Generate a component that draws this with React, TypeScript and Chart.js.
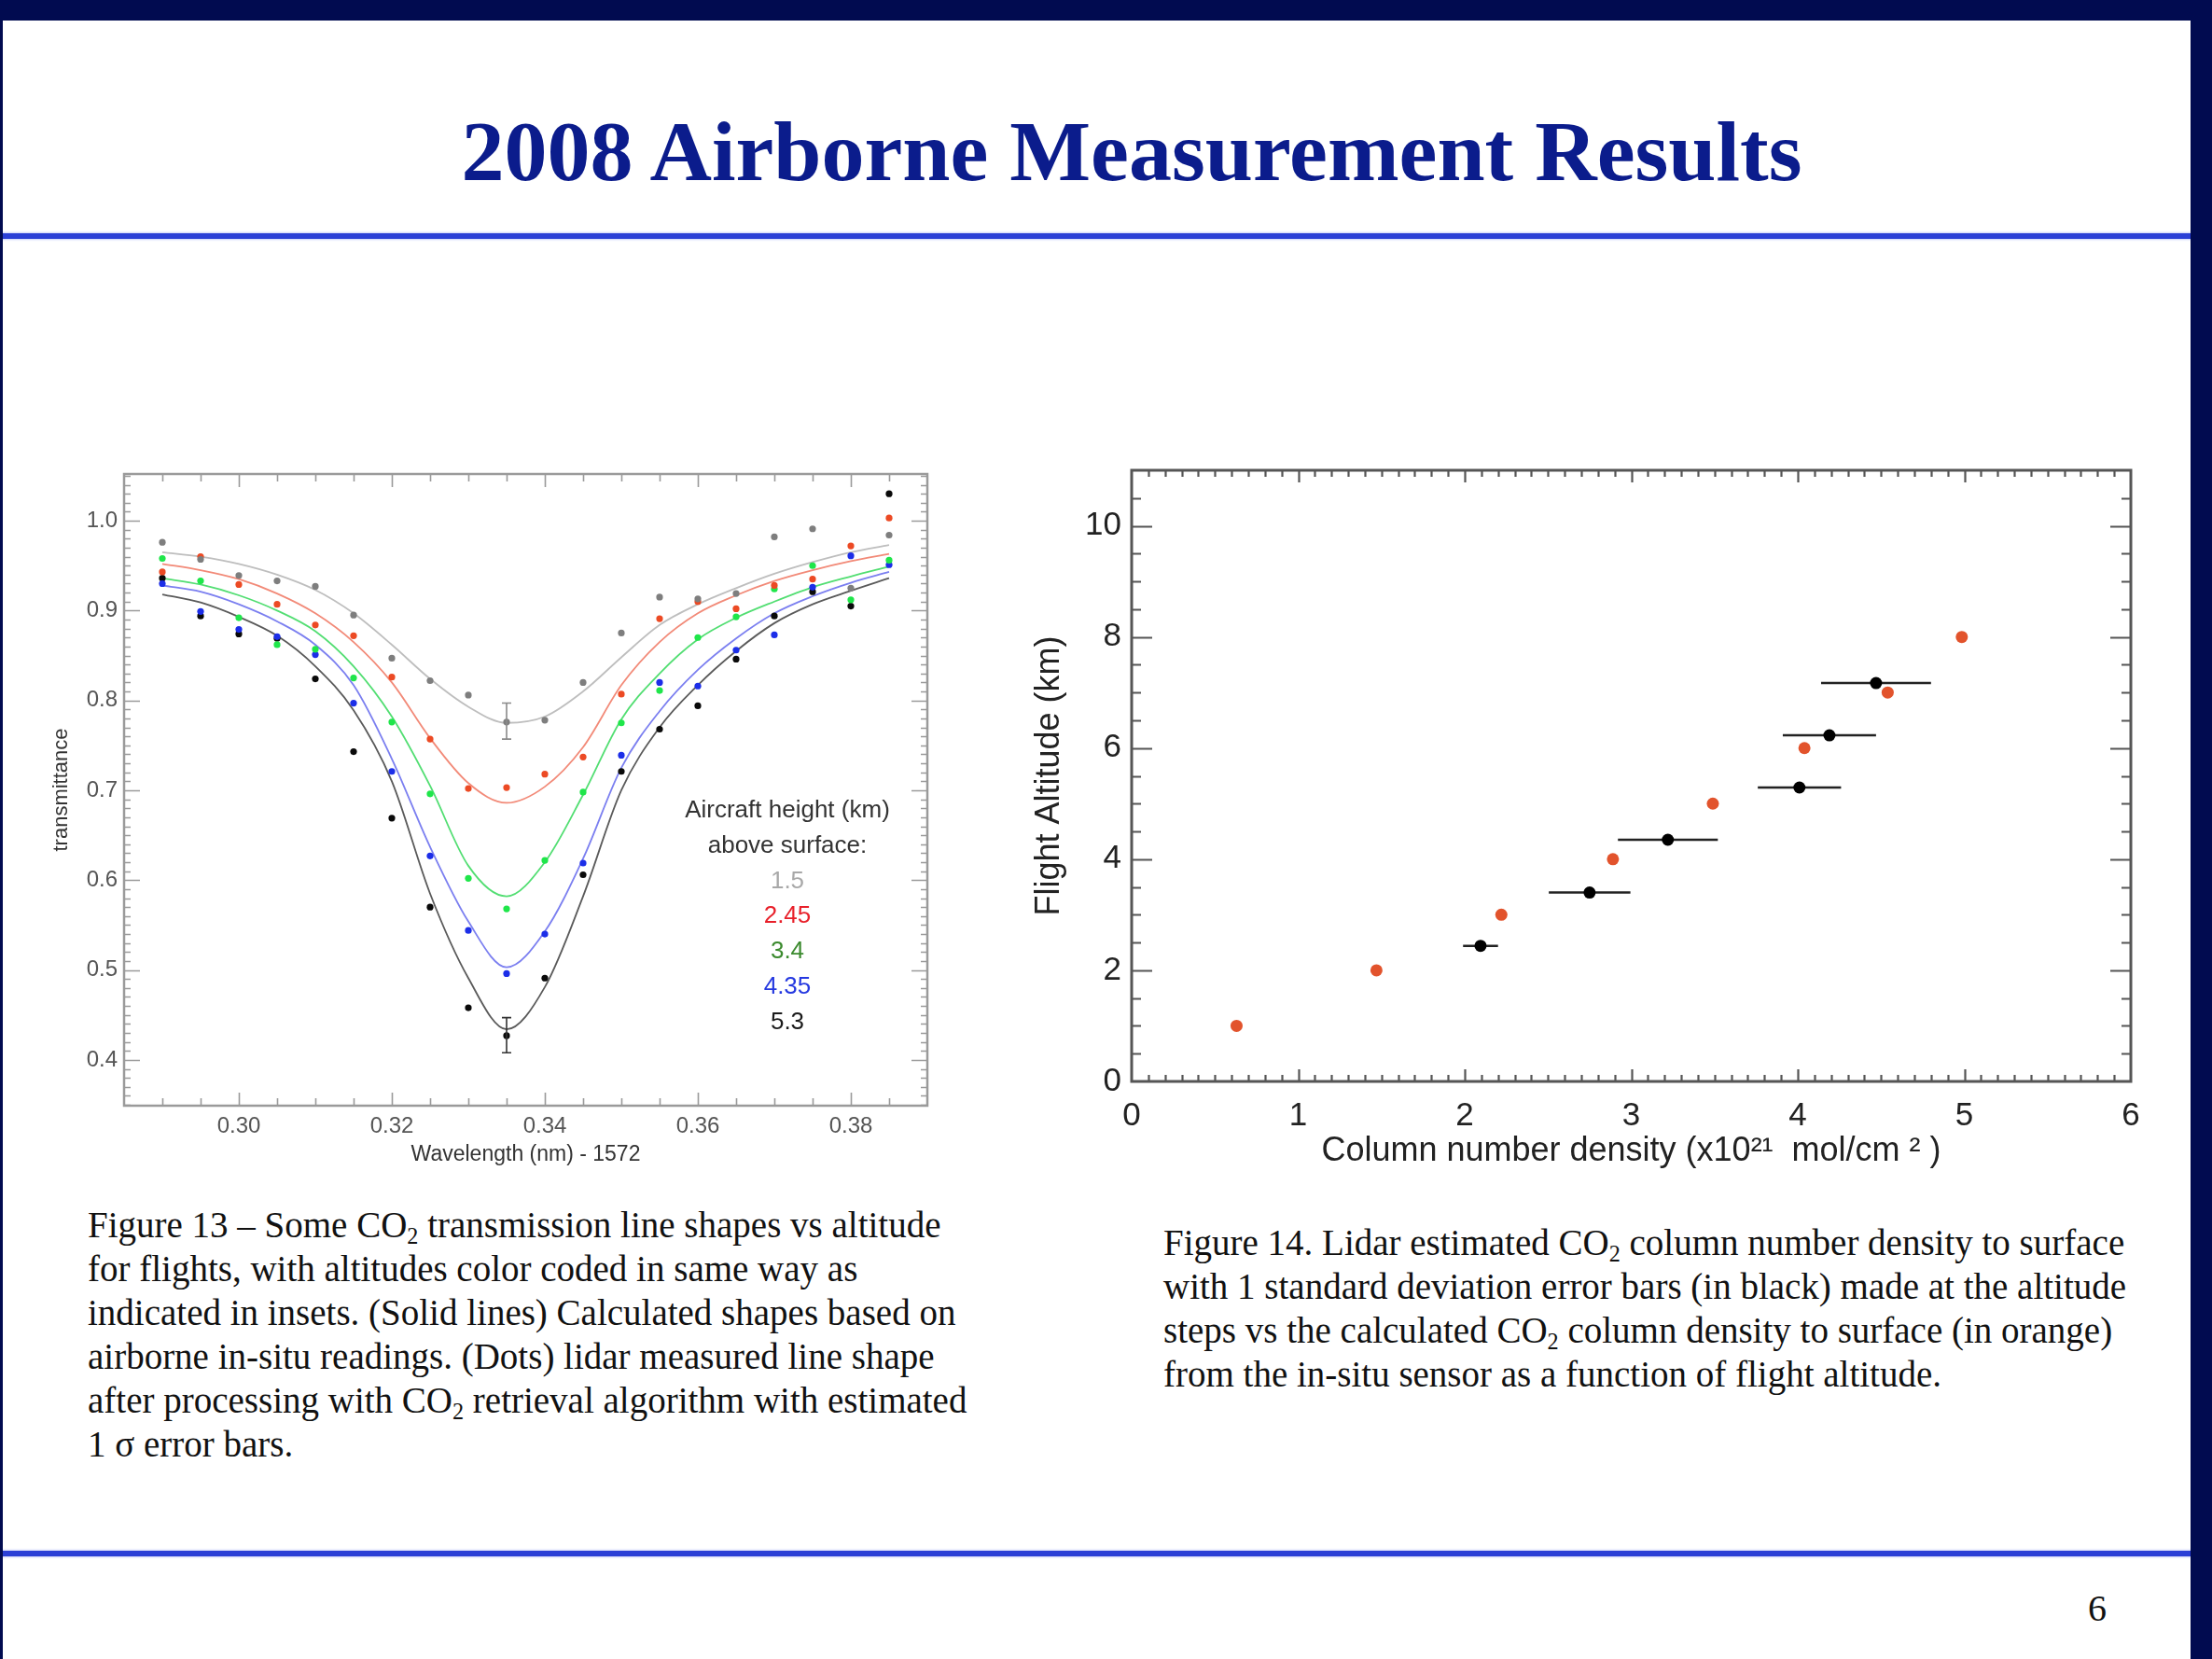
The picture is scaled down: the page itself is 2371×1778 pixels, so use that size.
import { useEffect, useRef } from "react";
import { Chart, registerables } from "chart.js";

Chart.register(...registerables);

const SANS = '"Liberation Sans", Arial, Helvetica, sans-serif';
const SERIF = '"Liberation Serif", "Times New Roman", Times, serif';
const NAVY = "#010b50";
const TITLE_BLUE = "#0b1c8c";

// ---------------- Figure 13 data ----------------
const fig13Wavelength = [0.29, 0.295, 0.3, 0.305, 0.31, 0.315, 0.32, 0.325, 0.33, 0.335, 0.34, 0.345, 0.35, 0.355, 0.36, 0.365, 0.37, 0.375, 0.38, 0.385];
const fig13Altitudes = ["1.5", "2.45", "3.4", "4.35", "5.3"];

const lidar15 = [0.976, 0.957, 0.939, 0.933, 0.927, 0.895, 0.847, 0.822, 0.806, 0.776, 0.778, 0.82, 0.875, 0.915, 0.913, 0.919, 0.982, 0.991, 0.925, 0.984];
const lidar245 = [0.943, 0.96, 0.929, 0.907, 0.884, 0.872, 0.826, 0.757, 0.702, 0.703, 0.718, 0.737, 0.807, 0.891, 0.91, 0.902, 0.928, 0.935, 0.972, 1.003];
const lidar34 = [0.958, 0.933, 0.892, 0.862, 0.857, 0.825, 0.776, 0.696, 0.602, 0.568, 0.622, 0.698, 0.775, 0.811, 0.87, 0.893, 0.924, 0.95, 0.912, 0.956];
const lidar435 = [0.93, 0.899, 0.879, 0.871, 0.851, 0.797, 0.721, 0.627, 0.544, 0.496, 0.54, 0.619, 0.739, 0.82, 0.816, 0.856, 0.873, 0.926, 0.961, 0.951];
const lidar53 = [0.936, 0.894, 0.874, 0.869, 0.824, 0.743, 0.669, 0.57, 0.458, 0.427, 0.491, 0.606, 0.721, 0.768, 0.794, 0.846, 0.894, 0.921, 0.905, 1.03];

const calc15 = [0.965, 0.96, 0.952, 0.94, 0.923, 0.897, 0.862, 0.824, 0.793, 0.775, 0.782, 0.81, 0.848, 0.884, 0.907, 0.925, 0.941, 0.954, 0.965, 0.973];
const calc245 = [0.952, 0.945, 0.935, 0.919, 0.897, 0.865, 0.82, 0.758, 0.708, 0.686, 0.704, 0.748, 0.817, 0.865, 0.897, 0.917, 0.933, 0.945, 0.955, 0.963];
const calc34 = [0.936, 0.929, 0.917, 0.9, 0.877, 0.838, 0.782, 0.705, 0.616, 0.582, 0.62, 0.695, 0.779, 0.83, 0.868, 0.892, 0.91, 0.926, 0.938, 0.949];
const calc435 = [0.928, 0.921, 0.907, 0.888, 0.862, 0.817, 0.735, 0.637, 0.554, 0.503, 0.543, 0.624, 0.725, 0.788, 0.834, 0.869, 0.897, 0.916, 0.931, 0.943];
const calc53 = [0.918, 0.909, 0.893, 0.872, 0.838, 0.789, 0.71, 0.585, 0.491, 0.434, 0.481, 0.582, 0.7, 0.77, 0.817, 0.855, 0.886, 0.907, 0.922, 0.936];

const fig13XTicks = [0.3, 0.32, 0.34, 0.36, 0.38];
const fig13XTickLabels = ["0.30", "0.32", "0.34", "0.36", "0.38"];
const fig13YTicks = [0.4, 0.5, 0.6, 0.7, 0.8, 0.9, 1.0];
const fig13YTickLabels = ["0.4", "0.5", "0.6", "0.7", "0.8", "0.9", "1.0"];

const fig13ErrX = [0.335, 0.335];
const fig13ErrLo = [0.757, 0.408];
const fig13ErrHi = [0.797, 0.447];

// ---------------- Figure 14 data ----------------
const insituDensity = [0.63, 1.47, 2.22, 2.89, 3.49, 4.04, 4.54, 4.985];
const insituAltitude = [1, 2, 3, 4, 5, 6, 7, 8];
const lidarDensity = [2.095, 2.75, 3.22, 4.01, 4.19, 4.47];
const lidarAltitude = [2.44, 3.4, 4.35, 5.29, 6.23, 7.17];
const lidarDensityErr = [0.105, 0.245, 0.3, 0.25, 0.28, 0.33];

const fig14XTicks = [0, 1, 2, 3, 4, 5, 6];
const fig14XTickLabels = ["0", "1", "2", "3", "4", "5", "6"];
const fig14YTicks = [0, 2, 4, 6, 8, 10];
const fig14YTickLabels = ["0", "2", "4", "6", "8", "10"];

// ---------------- plugins ----------------
function makeFramePlugin(cfg: any) {
  return {
    id: "frameTicks",
    afterDatasetsDraw(chart: any) {
      const { ctx, chartArea: a, scales } = chart;
      const xs = scales.x;
      const ys = scales.y;
      const near = (v: number, arr: number[]) => arr.some((m) => Math.abs(m - v) < 1e-6);
      ctx.save();
      ctx.strokeStyle = cfg.color;
      ctx.lineWidth = cfg.tickWidth;
      ctx.beginPath();
      const eps = 1e-7;
      for (let i = Math.floor(xs.min / cfg.xStep); i < 100000; i++) {
        const v = +(i * cfg.xStep).toFixed(6);
        if (v >= xs.max - eps) break;
        if (v <= xs.min + eps) continue;
        const px = Math.round(xs.getPixelForValue(v)) + 0.5;
        const L = near(v, cfg.xMajor) ? cfg.xMajorLen : cfg.xMinorLen;
        ctx.moveTo(px, a.bottom);
        ctx.lineTo(px, a.bottom - L);
        ctx.moveTo(px, a.top);
        ctx.lineTo(px, a.top + L);
      }
      for (let i = Math.floor(ys.min / cfg.yStep); i < 100000; i++) {
        const v = +(i * cfg.yStep).toFixed(6);
        if (v >= ys.max - eps) break;
        if (v <= ys.min + eps) continue;
        const py = Math.round(ys.getPixelForValue(v)) + 0.5;
        const L = near(v, cfg.yMajor) ? cfg.yMajorLen : cfg.yMinorLen;
        ctx.moveTo(a.left, py);
        ctx.lineTo(a.left + L, py);
        ctx.moveTo(a.right, py);
        ctx.lineTo(a.right - L, py);
      }
      ctx.stroke();
      ctx.lineWidth = cfg.boxWidth;
      ctx.strokeRect(a.left, a.top, a.right - a.left, a.bottom - a.top);
      ctx.restore();
    },
  };
}

function makeErrorBarPlugin(getBars: () => any[], before: boolean) {
  const draw = (chart: any) => {
    const { ctx, scales } = chart;
    const xs = scales.x;
    const ys = scales.y;
    ctx.save();
    for (const b of getBars()) {
      const px0 = xs.getPixelForValue(b.x0);
      const px1 = xs.getPixelForValue(b.x1);
      const py0 = ys.getPixelForValue(b.y0);
      const py1 = ys.getPixelForValue(b.y1);
      ctx.strokeStyle = b.color;
      ctx.lineWidth = b.width;
      ctx.beginPath();
      ctx.moveTo(px0, py0);
      ctx.lineTo(px1, py1);
      if (b.cap > 0) {
        if (b.x0 === b.x1) {
          ctx.moveTo(px0 - b.cap, py0);
          ctx.lineTo(px0 + b.cap, py0);
          ctx.moveTo(px1 - b.cap, py1);
          ctx.lineTo(px1 + b.cap, py1);
        } else {
          ctx.moveTo(px0, py0 - b.cap);
          ctx.lineTo(px0, py0 + b.cap);
          ctx.moveTo(px1, py1 - b.cap);
          ctx.lineTo(px1, py1 + b.cap);
        }
      }
      ctx.stroke();
    }
    ctx.restore();
  };
  return before
    ? { id: "errorBars", beforeDatasetsDraw: draw }
    : { id: "errorBars", afterDatasetsDraw: draw };
}

// ---------------- Figure 13 chart ----------------
const fig13Series = [
  { label: fig13Altitudes[0], lidar: lidar15, calc: calc15, dot: "#7e7e7e", line: "#bebebe" },
  { label: fig13Altitudes[1], lidar: lidar245, calc: calc245, dot: "#ec4a24", line: "#f28a78" },
  { label: fig13Altitudes[2], lidar: lidar34, calc: calc34, dot: "#1fe64a", line: "#52de72" },
  { label: fig13Altitudes[3], lidar: lidar435, calc: calc435, dot: "#1c2ee8", line: "#7b7ff0" },
  { label: fig13Altitudes[4], lidar: lidar53, calc: calc53, dot: "#0a0a0a", line: "#5a5a5a" },
];
const fig13LegendColors = ["#a8a8a8", "#e8202a", "#3b8a2e", "#2438e0", "#1a1a1a"];
const fig13ErrColors = ["#8a8a8a", "#333333"];

function Fig13() {
  const ref = useRef<HTMLCanvasElement>(null);
  useEffect(() => {
    if (!ref.current) return;
    const datasets: any[] = [];
    fig13Series.forEach((s) => {
      datasets.push({
        label: s.label + " km lidar",
        data: fig13Wavelength.map((x, i) => ({ x, y: s.lidar[i] })),
        showLine: false,
        pointRadius: 3.6,
        pointBackgroundColor: s.dot,
        pointBorderWidth: 0,
        order: 0,
      });
    });
    fig13Series.forEach((s) => {
      datasets.push({
        label: s.label + " km calculated",
        data: fig13Wavelength.map((x, i) => ({ x, y: s.calc[i] })),
        showLine: true,
        pointRadius: 0,
        borderColor: s.line,
        borderWidth: 1.8,
        cubicInterpolationMode: "monotone",
        fill: false,
        order: 1,
      });
    });
    const chart = new Chart(ref.current, {
      type: "scatter",
      data: { datasets },
      options: {
        responsive: false,
        animation: false,
        layout: { padding: { left: 0, top: 38, right: 66, bottom: 0 } },
        plugins: { legend: { display: false }, tooltip: { enabled: false } },
        scales: {
          x: {
            type: "linear",
            min: 0.285,
            max: 0.39,
            afterBuildTicks: (s: any) => {
              s.ticks = fig13XTicks.map((v) => ({ value: v }));
            },
            afterFit: (s: any) => {
              s.height = 85;
            },
            ticks: {
              autoSkip: false,
              maxRotation: 0,
              padding: 8,
              color: "#555",
              font: { family: SANS, size: 24 },
              callback: (_v: any, i: number) => fig13XTickLabels[i],
            },
            grid: { display: false, drawTicks: false },
            border: { display: false },
            title: {
              display: true,
              text: "Wavelength (nm) - 1572",
              color: "#333",
              font: { family: SANS, size: 23 },
              padding: { top: 0, bottom: 19 },
            },
          },
          y: {
            type: "linear",
            min: 0.349,
            max: 1.052,
            afterBuildTicks: (s: any) => {
              s.ticks = fig13YTicks.map((v) => ({ value: v }));
            },
            afterFit: (s: any) => {
              s.width = 133;
            },
            ticks: {
              autoSkip: false,
              padding: 7,
              color: "#555",
              font: { family: SANS, size: 24 },
              callback: (_v: any, i: number) => fig13YTickLabels[i],
            },
            grid: { display: false, drawTicks: false },
            border: { display: false },
            title: {
              display: true,
              text: "transmittance",
              color: "#333",
              font: { family: SANS, size: 22 },
              padding: { top: 53, bottom: 0 },
            },
          },
        },
      } as any,
      plugins: [
        makeErrorBarPlugin(
          () =>
            fig13ErrX.map((x, i) => ({
              x0: x,
              x1: x,
              y0: fig13ErrLo[i],
              y1: fig13ErrHi[i],
              color: fig13ErrColors[i],
              width: 1.6,
              cap: 5,
            })),
          false
        ),
        makeFramePlugin({
          color: "#9a9a9a",
          boxWidth: 2.5,
          tickWidth: 1.6,
          xStep: 0.005,
          yStep: 0.01,
          xMajor: [0.28, 0.3, 0.32, 0.34, 0.36, 0.38],
          yMajor: fig13YTicks,
          xMinorLen: 8,
          xMajorLen: 14,
          yMinorLen: 7,
          yMajorLen: 17,
        }),
      ],
    } as any);
    return () => chart.destroy();
  }, []);
  return (
    <>
      <canvas
        ref={ref}
        width={1060}
        height={800}
        style={{ position: "absolute", left: 0, top: 470, width: 1060, height: 800 }}
      />
      <div
        style={{
          position: "absolute",
          left: 594,
          top: 849,
          width: 500,
          textAlign: "center",
          fontFamily: SANS,
          fontSize: 26,
          lineHeight: "37.8px",
          color: "#333",
          whiteSpace: "nowrap",
        }}
      >
        <div>Aircraft height (km)</div>
        <div>above surface:</div>
        {fig13Altitudes.map((t, i) => (
          <div key={t} style={{ color: fig13LegendColors[i] }}>
            {t}
          </div>
        ))}
      </div>
    </>
  );
}

// ---------------- Figure 14 chart ----------------
function Fig14() {
  const ref = useRef<HTMLCanvasElement>(null);
  useEffect(() => {
    if (!ref.current) return;
    const chart = new Chart(ref.current, {
      type: "scatter",
      data: {
        datasets: [
          {
            label: "Lidar estimated",
            data: lidarDensity.map((x, i) => ({ x, y: lidarAltitude[i] })),
            pointRadius: 6.5,
            pointBackgroundColor: "#000",
            pointBorderWidth: 0,
            order: 0,
          },
          {
            label: "In-situ calculated",
            data: insituDensity.map((x, i) => ({ x, y: insituAltitude[i] })),
            pointRadius: 6.5,
            pointBackgroundColor: "#e2532c",
            pointBorderWidth: 0,
            order: 1,
          },
        ],
      },
      options: {
        responsive: false,
        animation: false,
        layout: { padding: { left: 0, top: 34, right: 56, bottom: 0 } },
        plugins: { legend: { display: false }, tooltip: { enabled: false } },
        scales: {
          x: {
            type: "linear",
            min: 0,
            max: 6,
            afterBuildTicks: (s: any) => {
              s.ticks = fig14XTicks.map((v) => ({ value: v }));
            },
            afterFit: (s: any) => {
              s.height = 141;
            },
            ticks: {
              autoSkip: false,
              maxRotation: 0,
              padding: 16,
              color: "#222",
              font: { family: SANS, size: 35 },
              callback: (_v: any, i: number) => fig14XTickLabels[i],
            },
            grid: { display: false, drawTicks: false },
            border: { display: false },
            title: {
              display: true,
              text: "Column number density (x10\u00B2\u00B9  mol/cm \u00B2 )",
              color: "#222",
              font: { family: SANS, size: 36 },
              padding: { top: 0, bottom: 44 },
            },
          },
          y: {
            type: "linear",
            min: 0,
            max: 11,
            afterBuildTicks: (s: any) => {
              s.ticks = fig14YTicks.map((v) => ({ value: v }));
            },
            afterFit: (s: any) => {
              s.width = 153;
            },
            ticks: {
              autoSkip: false,
              padding: 11,
              color: "#222",
              font: { family: SANS, size: 35 },
              callback: (_v: any, i: number) => fig14YTickLabels[i],
            },
            grid: { display: false, drawTicks: false },
            border: { display: false },
            title: {
              display: true,
              text: "Flight Altitude (km)",
              color: "#222",
              font: { family: SANS, size: 36 },
              padding: { top: 43, bottom: 0 },
            },
          },
        },
      } as any,
      plugins: [
        makeErrorBarPlugin(
          () =>
            lidarDensity.map((x, i) => ({
              x0: x - lidarDensityErr[i],
              x1: x + lidarDensityErr[i],
              y0: lidarAltitude[i],
              y1: lidarAltitude[i],
              color: "#222",
              width: 2.6,
              cap: 0,
            })),
          true
        ),
        makeFramePlugin({
          color: "#555",
          boxWidth: 3,
          tickWidth: 2.2,
          xStep: 0.1,
          yStep: 0.5,
          xMajor: fig14XTicks,
          yMajor: fig14YTicks,
          xMinorLen: 7,
          xMajorLen: 13,
          yMinorLen: 10,
          yMajorLen: 22,
        }),
      ],
    } as any);
    return () => chart.destroy();
  }, []);
  return (
    <canvas
      ref={ref}
      width={1280}
      height={830}
      style={{ position: "absolute", left: 1060, top: 470, width: 1280, height: 830 }}
    />
  );
}

const subStyle: any = { fontSize: "0.62em", verticalAlign: "-0.3em", lineHeight: 0 };

export default function App() {
  return (
    <div
      style={{
        position: "absolute",
        left: 0,
        top: 0,
        width: 2371,
        height: 1778,
        background: "#fff",
        overflow: "hidden",
      }}
    >
      <div
        style={{
          position: "absolute",
          left: 213,
          top: 116,
          width: 2000,
          textAlign: "center",
          fontFamily: SERIF,
          fontWeight: "bold",
          fontSize: 92,
          lineHeight: "92px",
          color: TITLE_BLUE,
          whiteSpace: "nowrap",
        }}
      >
        2008 Airborne Measurement Results
      </div>

      <div
        style={{
          position: "absolute",
          left: 0,
          top: 250,
          width: 2371,
          height: 6,
          background: "#2b40d6",
          boxShadow: "0 0 3px #8d9bf0",
        }}
      />
      <div
        style={{
          position: "absolute",
          left: 0,
          top: 1662,
          width: 2371,
          height: 6,
          background: "#2b40d6",
          boxShadow: "0 0 3px #8d9bf0",
        }}
      />

      <Fig13 />
      <Fig14 />

      <div
        style={{
          position: "absolute",
          left: 94,
          top: 1289,
          fontFamily: SERIF,
          fontSize: 39,
          lineHeight: "47px",
          color: "#111",
          whiteSpace: "nowrap",
        }}
      >
        <div>
          Figure 13 – Some CO<sub style={subStyle}>2</sub> transmission line shapes vs altitude
        </div>
        <div>for flights, with altitudes color coded in same way as</div>
        <div>indicated in insets. (Solid lines) Calculated shapes based on</div>
        <div>airborne in-situ readings. (Dots) lidar measured line shape</div>
        <div>
          after processing with CO<sub style={subStyle}>2</sub> retrieval algorithm with estimated
        </div>
        <div>1 σ error bars.</div>
      </div>

      <div
        style={{
          position: "absolute",
          left: 1247,
          top: 1308,
          fontFamily: SERIF,
          fontSize: 39,
          lineHeight: "47px",
          color: "#111",
          whiteSpace: "nowrap",
        }}
      >
        <div>
          Figure 14. Lidar estimated CO<sub style={subStyle}>2</sub> column number density to surface
        </div>
        <div>with 1 standard deviation error bars (in black) made at the altitude</div>
        <div>
          steps vs the calculated CO<sub style={subStyle}>2</sub> column density to surface (in orange)
        </div>
        <div>from the in-situ sensor as a function of flight altitude.</div>
      </div>

      <div
        style={{
          position: "absolute",
          left: 2218,
          top: 1704,
          width: 60,
          textAlign: "center",
          fontFamily: SERIF,
          fontSize: 40,
          lineHeight: "40px",
          color: "#111",
        }}
      >
        6
      </div>

      <div style={{ position: "absolute", left: 0, top: 0, width: 2371, height: 22, background: NAVY }} />
      <div style={{ position: "absolute", left: 0, top: 0, width: 3, height: 1778, background: NAVY }} />
      <div style={{ position: "absolute", left: 2348, top: 0, width: 23, height: 1778, background: NAVY }} />
    </div>
  );
}
